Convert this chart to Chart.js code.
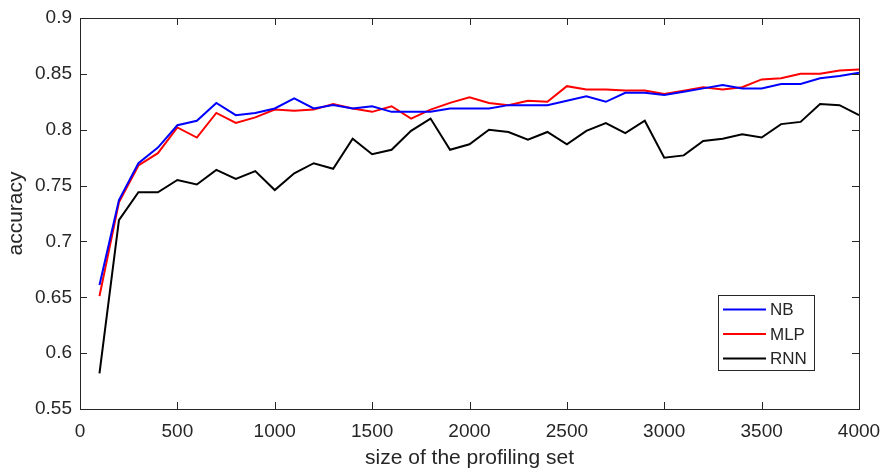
<!DOCTYPE html>
<html lang="en">
<head>
  <meta charset="UTF-8">
  <title>accuracy vs profiling set size</title>
  <script src="https://cdn.jsdelivr.net/npm/chart.js"></script>
  <style>
    html, body { margin: 0; padding: 0; background: #fff; }
    #wrap { width: 885px; height: 476px; }
  </style>
</head>
<body>
  <div id="wrap"><canvas id="accChart" width="885" height="476"></canvas></div>

  <script>
    // profiling set sizes
    const sizes = [100, 200, 300, 400, 500, 600, 700, 800, 900, 1000,
                   1100, 1200, 1300, 1400, 1500, 1600, 1700, 1800, 1900, 2000,
                   2100, 2200, 2300, 2400, 2500, 2600, 2700, 2800, 2900, 3000,
                   3100, 3200, 3300, 3400, 3500, 3600, 3700, 3800, 3900, 4000];

    const nbAcc = [0.661, 0.737, 0.770, 0.784, 0.804, 0.808, 0.824, 0.813, 0.815, 0.819,
                   0.828, 0.819, 0.822, 0.819, 0.821, 0.816, 0.816, 0.816, 0.819, 0.819,
                   0.819, 0.822, 0.822, 0.822, 0.826, 0.830, 0.825, 0.833, 0.833, 0.831,
                   0.834, 0.837, 0.840, 0.837, 0.837, 0.841, 0.841, 0.846, 0.848, 0.851];

    const mlpAcc = [0.651, 0.735, 0.768, 0.779, 0.802, 0.793, 0.815, 0.806, 0.811, 0.818,
                    0.817, 0.818, 0.823, 0.819, 0.816, 0.821, 0.810, 0.818, 0.824, 0.829,
                    0.824, 0.822, 0.826, 0.825, 0.839, 0.836, 0.836, 0.835, 0.835, 0.832,
                    0.835, 0.838, 0.836, 0.838, 0.845, 0.846, 0.850, 0.850, 0.853, 0.854];

    const rnnAcc = [0.582, 0.719, 0.744, 0.744, 0.755, 0.751, 0.764, 0.756, 0.763, 0.746,
                    0.761, 0.770, 0.765, 0.792, 0.778, 0.782, 0.799, 0.810, 0.782, 0.787,
                    0.800, 0.798, 0.791, 0.798, 0.787, 0.799, 0.806, 0.797, 0.808, 0.775,
                    0.777, 0.790, 0.792, 0.796, 0.793, 0.805, 0.807, 0.823, 0.822, 0.813];

    // axis ticks
    const xTicks = [0, 500, 1000, 1500, 2000, 2500, 3000, 3500, 4000];
    const yTicks = [0.55, 0.6, 0.65, 0.7, 0.75, 0.8, 0.85, 0.9];

    const axisColor = '#262626';
    const fontFamily = '"Liberation Sans", Arial, Helvetica, sans-serif';

    function toPoints(vals) {
      return sizes.map((s, i) => ({ x: s, y: vals[i] }));
    }

    // MATLAB-style box with inward ticks
    const boxPlugin = {
      id: 'boxAxes',
      afterDatasetsDraw(chart) {
        const { ctx, chartArea: a, scales } = chart;
        const len = 7;
        ctx.save();
        ctx.strokeStyle = axisColor;
        ctx.lineWidth = 1;
        ctx.strokeRect(a.left + 0.5, a.top + 0.5, a.right - a.left, a.bottom - a.top);
        ctx.beginPath();
        xTicks.forEach(v => {
          const px = Math.round(scales.x.getPixelForValue(v)) + 0.5;
          ctx.moveTo(px, a.bottom); ctx.lineTo(px, a.bottom - len);
          ctx.moveTo(px, a.top); ctx.lineTo(px, a.top + len);
        });
        yTicks.forEach(v => {
          const py = Math.round(scales.y.getPixelForValue(v)) + 0.5;
          ctx.moveTo(a.left, py); ctx.lineTo(a.left + len, py);
          ctx.moveTo(a.right, py); ctx.lineTo(a.right - len, py);
        });
        ctx.stroke();
        ctx.restore();
      }
    };

    // legend box inside the plot (lower right)
    const legendBox = {
      id: 'legendBox',
      afterDraw(chart) {
        const { ctx } = chart;
        const bx = 718, by = 295, bw = 96, bh = 75;
        ctx.save();
        ctx.fillStyle = '#fff';
        ctx.fillRect(bx, by, bw, bh);
        ctx.strokeStyle = axisColor;
        ctx.lineWidth = 1;
        ctx.strokeRect(bx + 0.5, by + 0.5, bw, bh);
        ctx.font = '17px ' + fontFamily;
        ctx.textBaseline = 'middle';
        chart.data.datasets.forEach((ds, i) => {
          const y = by + 14.5 + i * 24.5;
          ctx.strokeStyle = ds.borderColor;
          ctx.lineWidth = 2;
          ctx.beginPath();
          ctx.moveTo(bx + 5, y);
          ctx.lineTo(bx + 48, y);
          ctx.stroke();
          ctx.fillStyle = axisColor;
          ctx.fillText(ds.label, bx + 52, y + 1);
        });
        ctx.restore();
      }
    };

    const chart = new Chart(document.getElementById('accChart'), {
      type: 'line',
      data: {
        datasets: [
          { label: 'NB', data: toPoints(nbAcc), borderColor: '#0000ff' },
          { label: 'MLP', data: toPoints(mlpAcc), borderColor: '#ff0000' },
          { label: 'RNN', data: toPoints(rnnAcc), borderColor: '#000000' }
        ]
      },
      options: {
        responsive: false,
        animation: false,
        devicePixelRatio: 1,
        layout: { padding: { top: 18, right: 26, left: 0, bottom: 0 } },
        elements: {
          point: { radius: 0 },
          line: { borderWidth: 2, tension: 0 }
        },
        plugins: {
          legend: { display: false },
          tooltip: { enabled: false }
        },
        scales: {
          x: {
            type: 'linear',
            min: 0,
            max: 4000,
            afterBuildTicks: s => { s.ticks = xTicks.map(v => ({ value: v })); },
            afterFit: s => { s.height = 67; s.paddingLeft = 0; s.paddingRight = 0; },
            grid: { display: false, drawTicks: false },
            border: { display: false },
            ticks: {
              color: axisColor,
              font: { family: fontFamily, size: 19 },
              padding: 11,
              maxRotation: 0,
              autoSkip: false,
              callback: v => String(v)
            },
            title: {
              display: true,
              text: 'size of the profiling set',
              color: axisColor,
              font: { family: fontFamily, size: 21 },
              padding: { top: 0, bottom: 5 }
            }
          },
          y: {
            type: 'linear',
            min: 0.55,
            max: 0.9,
            afterBuildTicks: s => { s.ticks = yTicks.map(v => ({ value: v })); },
            afterFit: s => { s.width = 80; s.paddingTop = 0; s.paddingBottom = 0; },
            grid: { display: false, drawTicks: false },
            border: { display: false },
            ticks: {
              color: axisColor,
              font: { family: fontFamily, size: 19 },
              padding: 8,
              callback: v => String(Number(v.toFixed(2)))
            },
            title: {
              display: true,
              text: 'accuracy',
              color: axisColor,
              font: { family: fontFamily, size: 21 },
              padding: { top: 4, bottom: 0 }
            }
          }
        }
      },
      plugins: [boxPlugin, legendBox]
    });
  </script>
</body>
</html>
